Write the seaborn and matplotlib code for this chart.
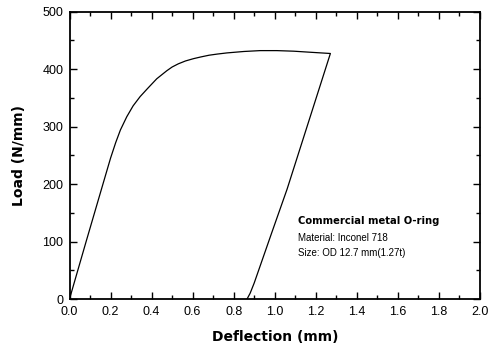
import pandas as pd
import matplotlib
matplotlib.use("Agg")
import matplotlib.pyplot as plt
from matplotlib.ticker import MultipleLocator
import seaborn as sns

# load-deflection path (loading, then unloading)
deflection = [0.0, 0.081, 0.163, 0.200, 0.225, 0.248, 0.279, 0.310, 0.344, 0.380,
              0.425, 0.474, 0.500, 0.530, 0.565, 0.604, 0.640, 0.680, 0.720,
              0.767, 0.850, 0.929, 1.010, 1.092, 1.180, 1.271,
              1.060, 0.985, 0.900, 0.880, 0.865]
load = [0, 100, 200, 245, 272, 294, 317, 336, 352, 366,
        383, 397, 403.5, 409, 414, 418, 421, 424, 426,
        428, 430.5, 432, 432, 431, 429, 427,
        191, 115, 28, 10, 0]
x_ticks = [0.0, 0.2, 0.4, 0.6, 0.8, 1.0, 1.2, 1.4, 1.6, 1.8, 2.0]
y_ticks = [0, 100, 200, 300, 400, 500]

df = pd.DataFrame({"Deflection": deflection, "Load": load})

sns.set_style("ticks")
plt.rcParams["font.family"] = ["Liberation Sans", "DejaVu Sans"]
plt.rcParams["text.color"] = "black"
plt.rcParams["axes.labelcolor"] = "black"

fig = plt.figure(figsize=(4.94, 3.5), dpi=100)
ax = fig.add_axes([0.1407, 0.1457, 0.8310, 0.8214])

sns.lineplot(data=df, x="Deflection", y="Load", sort=False, estimator=None,
             color="black", linewidth=0.9, ax=ax)

ax.set_xlim(0, 2.0)
ax.set_ylim(0, 500)
ax.set_xticks(x_ticks)
ax.set_yticks(y_ticks)
ax.set_xticklabels([f"{v:.1f}" for v in x_ticks])
ax.xaxis.set_minor_locator(MultipleLocator(0.1))
ax.yaxis.set_minor_locator(MultipleLocator(50))
ax.tick_params(which="both", direction="in", top=True, right=True,
               labelsize=9, width=1.0, colors="black")
ax.tick_params(which="major", length=5)
ax.tick_params(which="minor", length=3)
ax.tick_params(axis="x", which="major", pad=5)
ax.tick_params(axis="y", which="major", pad=4.5)
for s in ax.spines.values():
    s.set_visible(True)
    s.set_linewidth(1.3)
    s.set_color("black")

heavy = dict(family="DejaVu Sans", weight="bold")
ax.set_xlabel("Deflection (mm)", fontsize=10, labelpad=9, **heavy)
ax.set_ylabel("Load (N/mm)", fontsize=10, labelpad=12, **heavy)

ax.text(1.115, 136, "Commercial metal O-ring", fontsize=7.2, va="center", **heavy)
ax.text(1.115, 106, "Material: Inconel 718", fontsize=7, va="center")
ax.text(1.115, 80, "Size: OD 12.7 mm(1.27t)", fontsize=7, va="center")

fig.savefig("out.png", dpi=100)
